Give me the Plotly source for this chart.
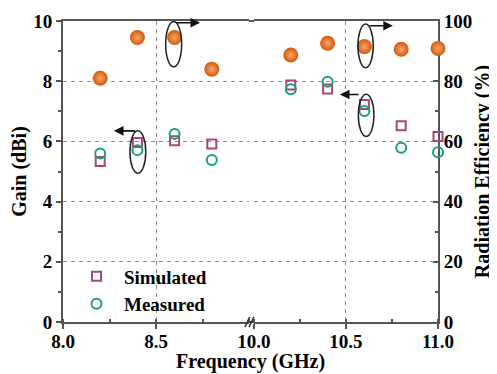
import plotly.graph_objects as go

# ---- data ----
freq_low = [8.2, 8.4, 8.6, 8.8]
freq_high = [10.2, 10.4, 10.6, 10.8, 11.0]

sim_low = [5.33, 5.96, 6.02, 5.91]
sim_high = [7.87, 7.74, 7.23, 6.52, 6.16]

meas_low = [5.60, 5.71, 6.25, 5.38]
meas_high = [7.73, 7.98, 7.01, 5.79, 5.64]

eff_low = [81.0, 94.5, 94.5, 84.0]
eff_high = [88.7, 92.6, 91.5, 90.6, 90.9]

xticks_low = [8.0, 8.5]
xticks_high = [10.0, 10.5, 11.0]
xticklabels_low = ["8.0", "8.5"]
xticklabels_high = ["10.0", "10.5", "11.0"]
gain_ticks = [0, 2, 4, 6, 8, 10]
eff_ticks = [0, 20, 40, 60, 80, 100]

FONT = "Liberation Serif"
SIM_C = "#A8457C"
MEAS_C = "#18A078"
EFF_C = "#D4580A"
AX_C = "#555555"
GRID_C = "#8c8c8c"
GRID_DASH = "4px,4px"

fig = go.Figure()

sim_marker = dict(symbol="square-open", size=9, color=SIM_C, line=dict(width=2, color=SIM_C))
meas_marker = dict(symbol="circle-open", size=10, color=MEAS_C, line=dict(width=2, color=MEAS_C))
eff_marker = dict(symbol="circle", size=15, color=EFF_C,
                  gradient=dict(type="radial", color="#F7A86E"),
                  line=dict(width=0))

fig.add_trace(go.Scatter(x=freq_low, y=sim_low, mode="markers", marker=sim_marker,
                         name="Simulated", legendgroup="s", xaxis="x", yaxis="y"))
fig.add_trace(go.Scatter(x=freq_high, y=sim_high, mode="markers", marker=sim_marker,
                         name="Simulated", legendgroup="s", showlegend=False, xaxis="x2", yaxis="y",
                         cliponaxis=False))
fig.add_trace(go.Scatter(x=freq_low, y=meas_low, mode="markers", marker=meas_marker,
                         name="Measured", legendgroup="m", xaxis="x", yaxis="y"))
fig.add_trace(go.Scatter(x=freq_high, y=meas_high, mode="markers", marker=meas_marker,
                         name="Measured", legendgroup="m", showlegend=False, xaxis="x2", yaxis="y",
                         cliponaxis=False))
fig.add_trace(go.Scatter(x=freq_low, y=eff_low, mode="markers", marker=eff_marker,
                         showlegend=False, xaxis="x", yaxis="y2"))
fig.add_trace(go.Scatter(x=freq_high, y=eff_high, mode="markers", marker=eff_marker,
                         showlegend=False, xaxis="x2", yaxis="y2", cliponaxis=False))

tickfont = dict(family=FONT, size=19, color="black", weight="bold")
titlefont = dict(family=FONT, size=20, color="black", weight="bold")

common_x = dict(showline=True, linecolor=AX_C, linewidth=2, mirror=True,
                ticks="outside", ticklen=5, tickwidth=1.5, tickcolor=AX_C,
                tickfont=tickfont, showgrid=True, griddash=GRID_DASH, ticklabelstandoff=-4,
                gridcolor=GRID_C, gridwidth=1, zeroline=False, automargin=False,
                minor=dict(ticks="inside", ticklen=3, tickcolor=AX_C, dtick=0.25,
                           showgrid=False))

L0, L1 = 0.0, 0.496
R0, R1 = 0.5093, 1.0

# the page body adds an 8px offset, so the figure is 8px smaller
fig.update_layout(
    width=489, height=366,
    margin=dict(l=55, r=59, t=13, b=52),
    paper_bgcolor="white", plot_bgcolor="white",
    xaxis=dict(domain=[L0, L1], range=[8.0, 9.0], tickmode="array",
               tickvals=xticks_low, ticktext=xticklabels_low, anchor="y", **common_x),
    xaxis2=dict(domain=[R0, R1], range=[10.0, 11.0], tickmode="array",
                tickvals=xticks_high, ticktext=xticklabels_high, anchor="y", **common_x),
    yaxis=dict(range=[0, 10], tickvals=gain_ticks, anchor="x", side="left",
               showline=True, linecolor=AX_C, linewidth=2, automargin=False,
               ticks="outside", ticklen=5, tickwidth=1.5, tickcolor=AX_C,
               tickfont=tickfont, showgrid=True, griddash=GRID_DASH,
               gridcolor=GRID_C, gridwidth=1, zeroline=False,
               minor=dict(ticks="outside", ticklen=3, tickcolor=AX_C, dtick=1, showgrid=False),
               title=dict(text="Gain (dBi)", font=titlefont, standoff=6)),
    yaxis2=dict(range=[0, 100], tickvals=eff_ticks, anchor="x2", side="right",
                overlaying="y", showline=True, linecolor=AX_C, linewidth=2, automargin=False,
                ticks="inside", ticklen=5, tickwidth=1.5, tickcolor=AX_C,
                tickfont=tickfont, showgrid=False, zeroline=False,
                minor=dict(ticks="inside", ticklen=3, tickcolor=AX_C, dtick=10),
                title=dict(text="Radiation Efficiency (%)", font=titlefont, standoff=4)),
    legend=dict(x=0.016, y=0.215, xanchor="left", yanchor="top",
                bgcolor="rgba(0,0,0,0)", font=dict(family=FONT, size=19, color="black", weight="bold"),
                itemwidth=45, tracegroupgap=0),
    showlegend=True,
)

# x-axis title for the broken axis
fig.add_annotation(text="Frequency (GHz)", xref="paper", yref="paper", x=0.5, y=-0.085,
                   yanchor="top", showarrow=False, font=titlefont)

# fill the axis-line gap and draw the break marks
for yy in (0, 1):
    fig.add_shape(type="line", xref="paper", yref="paper", x0=L1, x1=R0, y0=yy, y1=yy,
                  line=dict(color=AX_C, width=2))
for dx in (0.0, 0.011):
    fig.add_shape(type="line", xref="paper", yref="paper",
                  x0=0.485 + dx, x1=0.498 + dx, y0=-0.017, y1=0.017,
                  line=dict(color="#333333", width=1.5))

# ellipses marking which axis each group belongs to
ellipses = [
    ("x", 8.552, 8.638, 8.48, 9.98),
    ("x", 8.360, 8.445, 4.94, 6.35),
    ("x2", 10.565, 10.648, 8.45, 9.90),
    ("x2", 10.567, 10.652, 6.16, 7.57),
]
for xr, x0, x1, y0, y1 in ellipses:
    fig.add_shape(type="circle", xref=xr, yref="y", x0=x0, x1=x1, y0=y0, y1=y1,
                  line=dict(color="#222222", width=1.5))

arrows = [
    ("x", 8.600, 9.94, 8.737),
    ("x", 8.396, 6.35, 8.274),
    ("x2", 10.620, 9.84, 10.755),
    ("x2", 10.576, 7.56, 10.467),
]
for xr, xt, yv, xh in arrows:
    fig.add_annotation(x=xh, y=yv, ax=xt, ay=yv, xref=xr, yref="y", axref=xr, ayref="y",
                       text="", showarrow=True, arrowhead=2, arrowsize=1.2,
                       arrowwidth=1.6, arrowcolor="#111111")

fig.write_html("out.html")
